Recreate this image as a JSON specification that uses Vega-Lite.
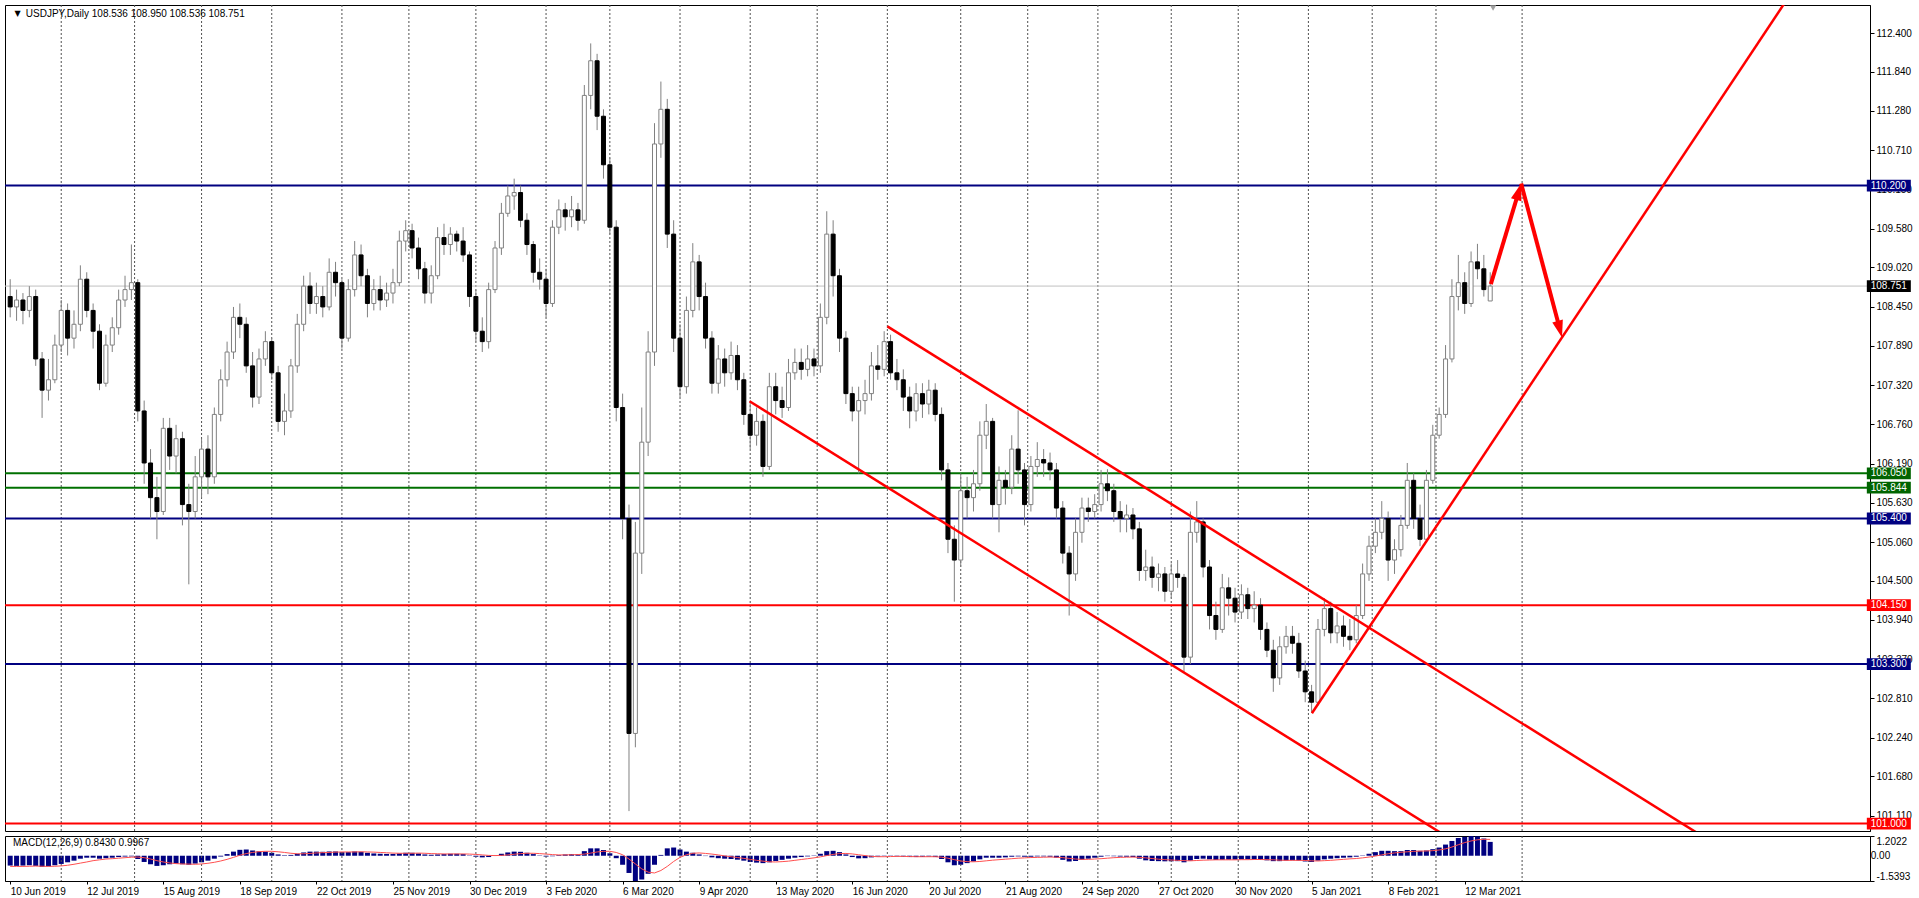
{
"$schema":"https://vega.github.io/schema/vega-lite/v6.json",
"background":"#ffffff",
"padding":{"left":3,"top":4,"right":0,"bottom":0},
"spacing":3,
"config":{
 "view":{"stroke":"#000000","strokeWidth":1},
 "axis":{"labelFont":"Liberation Sans","labelFontSize":10,"labelColor":"#000000","domainColor":"#000000","tickColor":"#000000","grid":false},
 "text":{"font":"Liberation Sans","fontSize":10}
},
"datasets":{
"grid":[{"g":16},{"g":39},{"g":60},{"g":82},{"g":104},{"g":125},{"g":146},{"g":168},{"g":188},{"g":210},{"g":232},{"g":253},{"g":275},{"g":298},{"g":319},{"g":341},{"g":364},{"g":385},{"g":407},{"g":427},{"g":447},{"g":474}],
"levels":[{"p":110.2,"k":"major"},{"p":106.05,"k":"zone"},{"p":105.844,"k":"zone"},{"p":105.4,"k":"major"},{"p":104.15,"k":"key"},{"p":103.3,"k":"major"},{"p":101.0,"k":"key"},{"p":108.751,"k":"last"}],
"trend":[{"t":"upper","i":275,"p":108.17},{"t":"upper","i":560,"p":99.97},{"t":"lower","i":231.8,"p":107.09},{"t":"lower","i":460,"p":100.536},{"t":"rise","i":408.1,"p":102.59},{"t":"rise","i":570,"p":113.78}],
"arrows":[{"a":1,"i":464.2,"p":108.78,"ie":472.56,"pe":110.056,"ti":473.7,"tp":110.23},{"a":2,"i":473.7,"p":110.23,"ie":485.5,"pe":108.19,"ti":486.5,"tp":108.01}],
"bars":[
{"i":0,"o":108.60,"h":108.85,"l":108.30,"c":108.45,"m":-0.60,"s":-0.65},
{"i":2,"o":108.45,"h":108.70,"l":108.25,"c":108.55,"m":-0.62,"s":-0.65},
{"i":4,"o":108.55,"h":108.65,"l":108.20,"c":108.40,"m":-0.60,"s":-0.65},
{"i":6,"o":108.40,"h":108.75,"l":108.30,"c":108.60,"m":-0.58,"s":-0.64},
{"i":8,"o":108.60,"h":108.70,"l":107.60,"c":107.70,"m":-0.62,"s":-0.63},
{"i":10,"o":107.70,"h":107.80,"l":106.85,"c":107.25,"m":-0.68,"s":-0.64},
{"i":12,"o":107.25,"h":107.70,"l":107.10,"c":107.40,"m":-0.65,"s":-0.65},
{"i":14,"o":107.40,"h":108.05,"l":107.35,"c":107.90,"m":-0.58,"s":-0.64},
{"i":16,"o":107.90,"h":108.55,"l":107.80,"c":108.40,"m":-0.50,"s":-0.62},
{"i":18,"o":108.40,"h":108.50,"l":107.75,"c":108.00,"m":-0.40,"s":-0.58},
{"i":20,"o":108.00,"h":108.40,"l":107.85,"c":108.20,"m":-0.30,"s":-0.52},
{"i":22,"o":108.20,"h":109.05,"l":108.10,"c":108.85,"m":-0.18,"s":-0.45},
{"i":24,"o":108.85,"h":108.95,"l":108.30,"c":108.40,"m":-0.12,"s":-0.38},
{"i":26,"o":108.40,"h":108.50,"l":107.85,"c":108.10,"m":-0.12,"s":-0.30},
{"i":28,"o":108.10,"h":108.20,"l":107.25,"c":107.35,"m":-0.18,"s":-0.25},
{"i":30,"o":107.35,"h":108.05,"l":107.30,"c":107.90,"m":-0.15,"s":-0.20},
{"i":32,"o":107.90,"h":108.30,"l":107.80,"c":108.15,"m":-0.12,"s":-0.18},
{"i":34,"o":108.15,"h":108.70,"l":108.05,"c":108.55,"m":-0.08,"s":-0.15},
{"i":36,"o":108.55,"h":108.90,"l":108.45,"c":108.70,"m":-0.05,"s":-0.12},
{"i":38,"o":108.70,"h":109.35,"l":108.55,"c":108.80,"m":-0.04,"s":-0.09},
{"i":40,"o":108.80,"h":108.85,"l":106.80,"c":106.95,"m":-0.20,"s":-0.08},
{"i":42,"o":106.95,"h":107.10,"l":105.90,"c":106.20,"m":-0.38,"s":-0.12},
{"i":44,"o":106.20,"h":106.40,"l":105.40,"c":105.70,"m":-0.52,"s":-0.20},
{"i":46,"o":105.70,"h":106.00,"l":105.10,"c":105.50,"m":-0.62,"s":-0.30},
{"i":48,"o":105.50,"h":106.85,"l":105.45,"c":106.70,"m":-0.58,"s":-0.38},
{"i":50,"o":106.70,"h":106.85,"l":106.10,"c":106.30,"m":-0.52,"s":-0.44},
{"i":52,"o":106.30,"h":106.75,"l":106.05,"c":106.55,"m":-0.48,"s":-0.48},
{"i":54,"o":106.55,"h":106.65,"l":105.30,"c":105.60,"m":-0.52,"s":-0.50},
{"i":56,"o":105.60,"h":105.90,"l":104.45,"c":105.50,"m":-0.55,"s":-0.51},
{"i":58,"o":105.50,"h":106.30,"l":105.40,"c":106.00,"m":-0.48,"s":-0.52},
{"i":60,"o":106.00,"h":106.55,"l":105.70,"c":106.40,"m":-0.40,"s":-0.50},
{"i":62,"o":106.40,"h":106.60,"l":105.75,"c":106.00,"m":-0.30,"s":-0.46},
{"i":64,"o":106.00,"h":107.00,"l":105.90,"c":106.90,"m":-0.18,"s":-0.40},
{"i":66,"o":106.90,"h":107.55,"l":106.80,"c":107.40,"m":-0.05,"s":-0.32},
{"i":68,"o":107.40,"h":107.95,"l":107.30,"c":107.80,"m":0.10,"s":-0.22},
{"i":70,"o":107.80,"h":108.45,"l":107.70,"c":108.30,"m":0.25,"s":-0.10},
{"i":72,"o":108.30,"h":108.50,"l":108.00,"c":108.20,"m":0.36,"s":0.03},
{"i":74,"o":108.20,"h":108.30,"l":107.50,"c":107.60,"m":0.38,"s":0.13},
{"i":76,"o":107.60,"h":107.80,"l":107.00,"c":107.15,"m":0.32,"s":0.20},
{"i":78,"o":107.15,"h":107.85,"l":107.05,"c":107.70,"m":0.28,"s":0.25},
{"i":80,"o":107.70,"h":108.10,"l":107.60,"c":107.95,"m":0.25,"s":0.27},
{"i":82,"o":107.95,"h":108.00,"l":107.40,"c":107.50,"m":0.18,"s":0.27},
{"i":84,"o":107.50,"h":107.60,"l":106.65,"c":106.80,"m":0.08,"s":0.24},
{"i":86,"o":106.80,"h":107.20,"l":106.60,"c":106.95,"m":0.03,"s":0.20},
{"i":88,"o":106.95,"h":107.70,"l":106.85,"c":107.60,"m":0.05,"s":0.15},
{"i":90,"o":107.60,"h":108.35,"l":107.50,"c":108.20,"m":0.12,"s":0.12},
{"i":92,"o":108.20,"h":108.90,"l":108.10,"c":108.75,"m":0.20,"s":0.12},
{"i":94,"o":108.75,"h":108.95,"l":108.35,"c":108.50,"m":0.25,"s":0.14},
{"i":96,"o":108.50,"h":108.80,"l":108.35,"c":108.60,"m":0.25,"s":0.17},
{"i":98,"o":108.60,"h":108.75,"l":108.30,"c":108.45,"m":0.24,"s":0.19},
{"i":100,"o":108.45,"h":109.15,"l":108.40,"c":108.95,"m":0.26,"s":0.20},
{"i":102,"o":108.95,"h":109.10,"l":108.60,"c":108.80,"m":0.26,"s":0.22},
{"i":104,"o":108.80,"h":108.85,"l":107.85,"c":108.00,"m":0.22,"s":0.23},
{"i":106,"o":108.00,"h":108.85,"l":107.95,"c":108.70,"m":0.22,"s":0.23},
{"i":108,"o":108.70,"h":109.40,"l":108.60,"c":109.20,"m":0.26,"s":0.23},
{"i":110,"o":109.20,"h":109.35,"l":108.75,"c":108.90,"m":0.24,"s":0.24},
{"i":112,"o":108.90,"h":109.00,"l":108.30,"c":108.50,"m":0.18,"s":0.23},
{"i":114,"o":108.50,"h":108.85,"l":108.40,"c":108.70,"m":0.14,"s":0.22},
{"i":116,"o":108.70,"h":108.90,"l":108.40,"c":108.55,"m":0.12,"s":0.20},
{"i":118,"o":108.55,"h":108.80,"l":108.45,"c":108.65,"m":0.11,"s":0.18},
{"i":120,"o":108.65,"h":109.00,"l":108.50,"c":108.80,"m":0.11,"s":0.16},
{"i":122,"o":108.80,"h":109.55,"l":108.75,"c":109.40,"m":0.14,"s":0.15},
{"i":124,"o":109.40,"h":109.70,"l":109.25,"c":109.55,"m":0.18,"s":0.15},
{"i":126,"o":109.55,"h":109.65,"l":109.15,"c":109.30,"m":0.18,"s":0.15},
{"i":128,"o":109.30,"h":109.45,"l":108.85,"c":109.00,"m":0.14,"s":0.16},
{"i":130,"o":109.00,"h":109.10,"l":108.50,"c":108.65,"m":0.08,"s":0.15},
{"i":132,"o":108.65,"h":109.05,"l":108.50,"c":108.90,"m":0.06,"s":0.13},
{"i":134,"o":108.90,"h":109.60,"l":108.85,"c":109.45,"m":0.08,"s":0.12},
{"i":136,"o":109.45,"h":109.65,"l":109.20,"c":109.35,"m":0.10,"s":0.11},
{"i":138,"o":109.35,"h":109.60,"l":109.20,"c":109.50,"m":0.12,"s":0.11},
{"i":140,"o":109.50,"h":109.55,"l":109.25,"c":109.40,"m":0.12,"s":0.11},
{"i":142,"o":109.40,"h":109.60,"l":109.10,"c":109.20,"m":0.10,"s":0.11},
{"i":144,"o":109.20,"h":109.25,"l":108.45,"c":108.60,"m":0.02,"s":0.10},
{"i":146,"o":108.60,"h":108.70,"l":107.95,"c":108.10,"m":-0.06,"s":0.08},
{"i":148,"o":108.10,"h":108.30,"l":107.80,"c":107.95,"m":-0.10,"s":0.05},
{"i":150,"o":107.95,"h":108.80,"l":107.85,"c":108.70,"m":-0.08,"s":0.02},
{"i":152,"o":108.70,"h":109.40,"l":108.65,"c":109.30,"m":0.02,"s":0.01},
{"i":154,"o":109.30,"h":109.95,"l":109.20,"c":109.80,"m":0.12,"s":0.02},
{"i":156,"o":109.80,"h":110.20,"l":109.75,"c":110.05,"m":0.20,"s":0.05},
{"i":158,"o":110.05,"h":110.30,"l":109.85,"c":110.10,"m":0.25,"s":0.09},
{"i":160,"o":110.10,"h":110.20,"l":109.60,"c":109.70,"m":0.24,"s":0.13},
{"i":162,"o":109.70,"h":109.80,"l":109.20,"c":109.35,"m":0.18,"s":0.15},
{"i":164,"o":109.35,"h":109.40,"l":108.80,"c":108.95,"m":0.10,"s":0.15},
{"i":166,"o":108.95,"h":109.15,"l":108.70,"c":108.85,"m":0.02,"s":0.13},
{"i":168,"o":108.85,"h":109.00,"l":108.30,"c":108.50,"m":-0.05,"s":0.10},
{"i":170,"o":108.50,"h":109.70,"l":108.45,"c":109.60,"m":-0.03,"s":0.07},
{"i":172,"o":109.60,"h":110.00,"l":109.50,"c":109.85,"m":0.04,"s":0.05},
{"i":174,"o":109.85,"h":109.95,"l":109.55,"c":109.75,"m":0.08,"s":0.05},
{"i":176,"o":109.75,"h":110.05,"l":109.60,"c":109.85,"m":0.10,"s":0.06},
{"i":178,"o":109.85,"h":109.95,"l":109.55,"c":109.70,"m":0.10,"s":0.07},
{"i":180,"o":109.70,"h":111.65,"l":109.65,"c":111.50,"m":0.28,"s":0.10},
{"i":182,"o":111.50,"h":112.25,"l":111.30,"c":112.00,"m":0.45,"s":0.16},
{"i":184,"o":112.00,"h":112.10,"l":111.00,"c":111.20,"m":0.45,"s":0.23},
{"i":186,"o":111.20,"h":111.30,"l":110.30,"c":110.50,"m":0.35,"s":0.27},
{"i":188,"o":110.50,"h":110.60,"l":109.50,"c":109.60,"m":0.15,"s":0.27},
{"i":190,"o":109.60,"h":109.70,"l":106.80,"c":107.00,"m":-0.15,"s":0.20},
{"i":192,"o":107.00,"h":107.20,"l":105.10,"c":105.40,"m":-0.55,"s":0.06},
{"i":194,"o":105.40,"h":105.60,"l":101.18,"c":102.30,"m":-1.05,"s":-0.20},
{"i":196,"o":102.30,"h":105.35,"l":102.10,"c":104.90,"m":-1.54,"s":-0.50},
{"i":198,"o":104.90,"h":107.00,"l":104.60,"c":106.50,"m":-1.45,"s":-0.80},
{"i":200,"o":106.50,"h":108.10,"l":106.30,"c":107.80,"m":-1.10,"s":-1.00},
{"i":202,"o":107.80,"h":111.10,"l":107.60,"c":110.80,"m":-0.55,"s":-1.05},
{"i":204,"o":110.80,"h":111.70,"l":110.60,"c":111.30,"m":0.05,"s":-0.90},
{"i":206,"o":111.30,"h":111.45,"l":109.30,"c":109.50,"m":0.45,"s":-0.65},
{"i":208,"o":109.50,"h":109.70,"l":107.80,"c":108.00,"m":0.50,"s":-0.35},
{"i":210,"o":108.00,"h":108.20,"l":107.15,"c":107.30,"m":0.38,"s":-0.10},
{"i":212,"o":107.30,"h":108.60,"l":107.20,"c":108.40,"m":0.25,"s":0.06},
{"i":214,"o":108.40,"h":109.37,"l":108.30,"c":109.10,"m":0.18,"s":0.15},
{"i":216,"o":109.10,"h":109.20,"l":108.40,"c":108.60,"m":0.08,"s":0.17},
{"i":218,"o":108.60,"h":108.80,"l":107.85,"c":108.00,"m":-0.02,"s":0.14},
{"i":220,"o":108.00,"h":108.10,"l":107.20,"c":107.35,"m":-0.10,"s":0.10},
{"i":222,"o":107.35,"h":107.90,"l":107.20,"c":107.70,"m":-0.15,"s":0.05},
{"i":224,"o":107.70,"h":107.85,"l":107.30,"c":107.50,"m":-0.18,"s":-0.01},
{"i":226,"o":107.50,"h":107.95,"l":107.40,"c":107.75,"m":-0.20,"s":-0.06},
{"i":228,"o":107.75,"h":107.90,"l":107.25,"c":107.40,"m":-0.24,"s":-0.11},
{"i":230,"o":107.40,"h":107.50,"l":106.75,"c":106.90,"m":-0.30,"s":-0.16},
{"i":232,"o":106.90,"h":107.10,"l":106.40,"c":106.60,"m":-0.38,"s":-0.22},
{"i":234,"o":106.60,"h":107.00,"l":106.45,"c":106.80,"m":-0.42,"s":-0.28},
{"i":236,"o":106.80,"h":106.90,"l":106.00,"c":106.15,"m":-0.45,"s":-0.33},
{"i":238,"o":106.15,"h":107.50,"l":106.10,"c":107.30,"m":-0.40,"s":-0.37},
{"i":240,"o":107.30,"h":107.50,"l":106.90,"c":107.10,"m":-0.32,"s":-0.38},
{"i":242,"o":107.10,"h":107.30,"l":106.85,"c":107.00,"m":-0.25,"s":-0.36},
{"i":244,"o":107.00,"h":107.70,"l":106.95,"c":107.50,"m":-0.18,"s":-0.33},
{"i":246,"o":107.50,"h":107.85,"l":107.40,"c":107.65,"m":-0.12,"s":-0.28},
{"i":248,"o":107.65,"h":107.85,"l":107.40,"c":107.55,"m":-0.08,"s":-0.23},
{"i":250,"o":107.55,"h":107.90,"l":107.45,"c":107.70,"m":-0.04,"s":-0.18},
{"i":252,"o":107.70,"h":107.85,"l":107.45,"c":107.60,"m":0.02,"s":-0.13},
{"i":254,"o":107.60,"h":108.50,"l":107.50,"c":108.30,"m":0.12,"s":-0.07},
{"i":256,"o":108.30,"h":109.83,"l":108.20,"c":109.50,"m":0.28,"s":0.01},
{"i":258,"o":109.50,"h":109.70,"l":108.60,"c":108.90,"m":0.30,"s":0.08},
{"i":260,"o":108.90,"h":109.00,"l":107.80,"c":108.00,"m":0.22,"s":0.13},
{"i":262,"o":108.00,"h":108.10,"l":107.05,"c":107.20,"m":0.08,"s":0.14},
{"i":264,"o":107.20,"h":107.30,"l":106.80,"c":106.95,"m":-0.08,"s":0.11},
{"i":266,"o":106.95,"h":107.30,"l":106.05,"c":107.10,"m":-0.16,"s":0.06},
{"i":268,"o":107.10,"h":107.40,"l":106.90,"c":107.20,"m":-0.15,"s":0.01},
{"i":270,"o":107.20,"h":107.80,"l":107.10,"c":107.60,"m":-0.10,"s":-0.04},
{"i":272,"o":107.60,"h":107.90,"l":107.40,"c":107.55,"m":-0.05,"s":-0.06},
{"i":274,"o":107.55,"h":108.10,"l":107.45,"c":107.95,"m":-0.02,"s":-0.06},
{"i":276,"o":107.95,"h":108.05,"l":107.40,"c":107.50,"m":-0.02,"s":-0.05},
{"i":278,"o":107.50,"h":107.70,"l":107.25,"c":107.40,"m":-0.04,"s":-0.04},
{"i":280,"o":107.40,"h":107.55,"l":106.95,"c":107.15,"m":-0.06,"s":-0.04},
{"i":282,"o":107.15,"h":107.30,"l":106.70,"c":106.95,"m":-0.08,"s":-0.05},
{"i":284,"o":106.95,"h":107.35,"l":106.80,"c":107.20,"m":-0.08,"s":-0.06},
{"i":286,"o":107.20,"h":107.35,"l":106.85,"c":107.05,"m":-0.07,"s":-0.06},
{"i":288,"o":107.05,"h":107.40,"l":106.90,"c":107.25,"m":-0.05,"s":-0.06},
{"i":290,"o":107.25,"h":107.35,"l":106.80,"c":106.90,"m":-0.08,"s":-0.06},
{"i":292,"o":106.90,"h":107.00,"l":105.95,"c":106.10,"m":-0.20,"s":-0.09},
{"i":294,"o":106.10,"h":106.20,"l":104.90,"c":105.10,"m":-0.40,"s":-0.15},
{"i":296,"o":105.10,"h":105.30,"l":104.20,"c":104.80,"m":-0.58,"s":-0.24},
{"i":298,"o":104.80,"h":106.05,"l":104.70,"c":105.80,"m":-0.55,"s":-0.32},
{"i":300,"o":105.80,"h":106.00,"l":105.40,"c":105.70,"m":-0.45,"s":-0.36},
{"i":302,"o":105.70,"h":106.10,"l":105.50,"c":105.90,"m":-0.35,"s":-0.37},
{"i":304,"o":105.90,"h":106.80,"l":105.80,"c":106.60,"m":-0.22,"s":-0.35},
{"i":306,"o":106.60,"h":107.05,"l":106.40,"c":106.80,"m":-0.12,"s":-0.31},
{"i":308,"o":106.80,"h":106.85,"l":105.40,"c":105.60,"m":-0.12,"s":-0.27},
{"i":310,"o":105.60,"h":106.15,"l":105.20,"c":105.95,"m":-0.12,"s":-0.24},
{"i":312,"o":105.95,"h":106.10,"l":105.60,"c":105.85,"m":-0.10,"s":-0.21},
{"i":314,"o":105.85,"h":106.60,"l":105.75,"c":106.40,"m":-0.06,"s":-0.18},
{"i":316,"o":106.40,"h":106.96,"l":105.90,"c":106.10,"m":-0.04,"s":-0.15},
{"i":318,"o":106.10,"h":106.20,"l":105.30,"c":105.60,"m":-0.06,"s":-0.13},
{"i":320,"o":105.60,"h":106.30,"l":105.50,"c":106.15,"m":-0.06,"s":-0.11},
{"i":322,"o":106.15,"h":106.50,"l":106.00,"c":106.25,"m":-0.04,"s":-0.10},
{"i":324,"o":106.25,"h":106.40,"l":106.00,"c":106.20,"m":-0.04,"s":-0.09},
{"i":326,"o":106.20,"h":106.35,"l":105.95,"c":106.10,"m":-0.06,"s":-0.08},
{"i":328,"o":106.10,"h":106.20,"l":105.40,"c":105.55,"m":-0.12,"s":-0.09},
{"i":330,"o":105.55,"h":105.65,"l":104.75,"c":104.90,"m":-0.25,"s":-0.12},
{"i":332,"o":104.90,"h":105.00,"l":104.00,"c":104.60,"m":-0.35,"s":-0.16},
{"i":334,"o":104.60,"h":105.40,"l":104.50,"c":105.20,"m":-0.32,"s":-0.20},
{"i":336,"o":105.20,"h":105.70,"l":105.05,"c":105.55,"m":-0.25,"s":-0.22},
{"i":338,"o":105.55,"h":105.70,"l":105.35,"c":105.50,"m":-0.18,"s":-0.22},
{"i":340,"o":105.50,"h":105.75,"l":105.40,"c":105.60,"m":-0.12,"s":-0.20},
{"i":342,"o":105.60,"h":106.10,"l":105.50,"c":105.90,"m":-0.06,"s":-0.18},
{"i":344,"o":105.90,"h":106.11,"l":105.65,"c":105.80,"m":-0.02,"s":-0.15},
{"i":346,"o":105.80,"h":105.90,"l":105.35,"c":105.50,"m":-0.03,"s":-0.12},
{"i":348,"o":105.50,"h":105.65,"l":105.20,"c":105.40,"m":-0.05,"s":-0.10},
{"i":350,"o":105.40,"h":105.60,"l":105.20,"c":105.45,"m":-0.06,"s":-0.09},
{"i":352,"o":105.45,"h":105.55,"l":105.10,"c":105.25,"m":-0.08,"s":-0.08},
{"i":354,"o":105.25,"h":105.35,"l":104.50,"c":104.65,"m":-0.18,"s":-0.10},
{"i":356,"o":104.65,"h":104.95,"l":104.50,"c":104.70,"m":-0.28,"s":-0.13},
{"i":358,"o":104.70,"h":104.85,"l":104.40,"c":104.55,"m":-0.32,"s":-0.17},
{"i":360,"o":104.55,"h":104.75,"l":104.35,"c":104.60,"m":-0.33,"s":-0.21},
{"i":362,"o":104.60,"h":104.70,"l":104.20,"c":104.35,"m":-0.34,"s":-0.24},
{"i":364,"o":104.35,"h":104.75,"l":104.25,"c":104.60,"m":-0.34,"s":-0.26},
{"i":366,"o":104.60,"h":104.80,"l":104.40,"c":104.55,"m":-0.33,"s":-0.28},
{"i":368,"o":104.55,"h":104.60,"l":103.19,"c":103.40,"m":-0.40,"s":-0.30},
{"i":370,"o":103.40,"h":105.50,"l":103.30,"c":105.20,"m":-0.30,"s":-0.31},
{"i":372,"o":105.20,"h":105.65,"l":105.05,"c":105.35,"m":-0.20,"s":-0.29},
{"i":374,"o":105.35,"h":105.40,"l":104.55,"c":104.70,"m":-0.18,"s":-0.27},
{"i":376,"o":104.70,"h":104.80,"l":103.80,"c":104.00,"m":-0.22,"s":-0.26},
{"i":378,"o":104.00,"h":104.20,"l":103.65,"c":103.80,"m":-0.26,"s":-0.25},
{"i":380,"o":103.80,"h":104.60,"l":103.75,"c":104.40,"m":-0.25,"s":-0.25},
{"i":382,"o":104.40,"h":104.55,"l":104.00,"c":104.25,"m":-0.24,"s":-0.25},
{"i":384,"o":104.25,"h":104.40,"l":103.90,"c":104.05,"m":-0.24,"s":-0.25},
{"i":386,"o":104.05,"h":104.45,"l":103.95,"c":104.30,"m":-0.22,"s":-0.24},
{"i":388,"o":104.30,"h":104.40,"l":103.95,"c":104.10,"m":-0.22,"s":-0.24},
{"i":390,"o":104.10,"h":104.35,"l":103.90,"c":104.15,"m":-0.22,"s":-0.23},
{"i":392,"o":104.15,"h":104.25,"l":103.65,"c":103.80,"m":-0.25,"s":-0.23},
{"i":394,"o":103.80,"h":103.90,"l":103.40,"c":103.50,"m":-0.28,"s":-0.24},
{"i":396,"o":103.50,"h":103.65,"l":102.90,"c":103.10,"m":-0.33,"s":-0.25},
{"i":398,"o":103.10,"h":103.70,"l":103.00,"c":103.55,"m":-0.33,"s":-0.27},
{"i":400,"o":103.55,"h":103.85,"l":103.45,"c":103.70,"m":-0.30,"s":-0.28},
{"i":402,"o":103.70,"h":103.85,"l":103.45,"c":103.60,"m":-0.28,"s":-0.28},
{"i":404,"o":103.60,"h":103.75,"l":103.10,"c":103.20,"m":-0.30,"s":-0.28},
{"i":406,"o":103.20,"h":103.35,"l":102.75,"c":102.90,"m":-0.35,"s":-0.29},
{"i":408,"o":102.90,"h":103.00,"l":102.60,"c":102.75,"m":-0.38,"s":-0.31},
{"i":410,"o":102.75,"h":103.95,"l":102.70,"c":103.80,"m":-0.30,"s":-0.32},
{"i":412,"o":103.80,"h":104.25,"l":103.70,"c":104.10,"m":-0.22,"s":-0.30},
{"i":414,"o":104.10,"h":104.20,"l":103.60,"c":103.75,"m":-0.18,"s":-0.28},
{"i":416,"o":103.75,"h":104.05,"l":103.60,"c":103.85,"m":-0.15,"s":-0.25},
{"i":418,"o":103.85,"h":104.00,"l":103.55,"c":103.70,"m":-0.12,"s":-0.22},
{"i":420,"o":103.70,"h":103.95,"l":103.50,"c":103.65,"m":-0.10,"s":-0.19},
{"i":422,"o":103.65,"h":104.15,"l":103.60,"c":104.00,"m":-0.06,"s":-0.17},
{"i":424,"o":104.00,"h":104.75,"l":103.95,"c":104.60,"m":0.02,"s":-0.13},
{"i":426,"o":104.60,"h":105.15,"l":104.50,"c":105.00,"m":0.12,"s":-0.08},
{"i":428,"o":105.00,"h":105.40,"l":104.90,"c":105.20,"m":0.22,"s":-0.02},
{"i":430,"o":105.20,"h":105.65,"l":105.10,"c":105.40,"m":0.30,"s":0.05},
{"i":432,"o":105.40,"h":105.50,"l":104.50,"c":104.80,"m":0.30,"s":0.12},
{"i":434,"o":104.80,"h":105.10,"l":104.60,"c":104.95,"m":0.28,"s":0.17},
{"i":436,"o":104.95,"h":105.45,"l":104.85,"c":105.30,"m":0.28,"s":0.21},
{"i":438,"o":105.30,"h":106.20,"l":105.25,"c":105.95,"m":0.35,"s":0.24},
{"i":440,"o":105.95,"h":106.05,"l":105.25,"c":105.40,"m":0.35,"s":0.27},
{"i":442,"o":105.40,"h":105.60,"l":105.00,"c":105.10,"m":0.30,"s":0.28},
{"i":444,"o":105.10,"h":106.10,"l":105.05,"c":105.95,"m":0.32,"s":0.29},
{"i":446,"o":105.95,"h":106.75,"l":105.90,"c":106.60,"m":0.40,"s":0.31},
{"i":448,"o":106.60,"h":107.00,"l":106.55,"c":106.90,"m":0.50,"s":0.35},
{"i":450,"o":106.90,"h":107.90,"l":106.85,"c":107.70,"m":0.68,"s":0.42},
{"i":452,"o":107.70,"h":108.85,"l":107.65,"c":108.60,"m":0.90,"s":0.53},
{"i":454,"o":108.60,"h":109.20,"l":108.40,"c":108.80,"m":1.08,"s":0.67},
{"i":456,"o":108.80,"h":108.95,"l":108.35,"c":108.50,"m":1.15,"s":0.80},
{"i":458,"o":108.50,"h":109.25,"l":108.45,"c":109.10,"m":1.20,"s":0.90},
{"i":460,"o":109.10,"h":109.36,"l":108.85,"c":109.00,"m":1.18,"s":0.97},
{"i":462,"o":109.00,"h":109.20,"l":108.60,"c":108.70,"m":1.05,"s":1.00},
{"i":464,"o":108.536,"h":108.95,"l":108.536,"c":108.751,"m":0.843,"s":0.997}
]
},
"vconcat":[
{
"width":1865,"height":826,
"layer":[
 {"data":{"name":"grid"},"mark":{"type":"rule","color":"#505050","strokeDash":[2,2],"strokeWidth":1},
  "encoding":{"x":{"field":"g","type":"quantitative","scale":{"domain":[-0.06,581.5],"nice":false,"zero":false},"axis":null}}},
 {"data":{"name":"levels"},"transform":[{"filter":"datum.k != 'last'"}],"mark":{"type":"rule","strokeWidth":2},
  "encoding":{
   "y":{"field":"p","type":"quantitative","scale":{"domain":[100.893,112.804],"nice":false,"zero":false},"title":null,
        "axis":{"orient":"right","values":[101.11,101.68,102.24,102.81,103.37,103.94,104.5,105.06,105.63,106.19,106.76,107.32,107.89,108.45,109.02,109.58,110.15,110.71,111.28,111.84,112.4],"format":".3f","tickSize":4,"labelPadding":2,"labelOverlap":false,"labelFlush":false,"labelBound":false,"domain":true,"title":null}},
   "color":{"field":"k","type":"nominal","scale":{"domain":["major","zone","key"],"range":["#000080","#007000","#ff0000"]},"legend":null}}},
 {"data":{"name":"levels"},"transform":[{"filter":"datum.k == 'last'"}],"mark":{"type":"rule","color":"#c0c0c0","strokeWidth":1},
  "encoding":{"y":{"field":"p","type":"quantitative","scale":{"domain":[100.893,112.804],"nice":false,"zero":false},"title":null}}},
 {"data":{"name":"bars"},"mark":{"type":"rule","color":"#808080","strokeWidth":1},
  "encoding":{"x":{"field":"i","type":"quantitative","scale":{"domain":[-0.06,581.5],"nice":false,"zero":false},"axis":null},
   "y":{"field":"l","type":"quantitative","scale":{"domain":[100.893,112.804],"nice":false,"zero":false},"title":null},
   "y2":{"field":"h"}}},
 {"data":{"name":"bars"},"mark":{"type":"bar","width":4,"strokeWidth":1},
  "encoding":{"x":{"field":"i","type":"quantitative","scale":{"domain":[-0.06,581.5],"nice":false,"zero":false},"axis":null},
   "y":{"field":"o","type":"quantitative","scale":{"domain":[100.893,112.804],"nice":false,"zero":false},"title":null},
   "y2":{"field":"c"},
   "fill":{"condition":{"test":"datum.c >= datum.o","value":"#ffffff"},"value":"#000000"},
   "stroke":{"condition":{"test":"datum.c >= datum.o","value":"#808080"},"value":"#000000"}}},
 {"data":{"name":"trend"},"mark":{"type":"line","color":"#ff0000","strokeWidth":2.5,"clip":true},
  "encoding":{"x":{"field":"i","type":"quantitative","scale":{"domain":[-0.06,581.5],"nice":false,"zero":false},"axis":null},
   "y":{"field":"p","type":"quantitative","scale":{"domain":[100.893,112.804],"nice":false,"zero":false},"title":null},
   "detail":{"field":"t"}}},
 {"data":{"name":"arrows"},"mark":{"type":"rule","color":"#ff0000","strokeWidth":4},
  "encoding":{"x":{"field":"i","type":"quantitative","scale":{"domain":[-0.06,581.5],"nice":false,"zero":false},"axis":null},
   "y":{"field":"p","type":"quantitative","scale":{"domain":[100.893,112.804],"nice":false,"zero":false},"title":null},
   "x2":{"field":"ie"},"y2":{"field":"pe"}}},
 {"data":{"name":"arrows"},"transform":[{"filter":"datum.a == 1"}],"mark":{"type":"point","shape":"M0,0L0.32,1L-0.32,1Z","size":1156,"angle":17,"filled":true,"color":"#ff0000","opacity":1,"strokeWidth":0},
  "encoding":{"x":{"field":"ti","type":"quantitative","scale":{"domain":[-0.06,581.5],"nice":false,"zero":false},"axis":null},
   "y":{"field":"tp","type":"quantitative","scale":{"domain":[100.893,112.804],"nice":false,"zero":false},"title":null}}},
 {"data":{"name":"arrows"},"transform":[{"filter":"datum.a == 2"}],"mark":{"type":"point","shape":"M0,0L0.32,1L-0.32,1Z","size":1156,"angle":165,"filled":true,"color":"#ff0000","opacity":1,"strokeWidth":0},
  "encoding":{"x":{"field":"ti","type":"quantitative","scale":{"domain":[-0.06,581.5],"nice":false,"zero":false},"axis":null},
   "y":{"field":"tp","type":"quantitative","scale":{"domain":[100.893,112.804],"nice":false,"zero":false},"title":null}}},
 {"data":{"name":"levels"},"mark":{"type":"point","shape":"M-1,-0.27H1V0.27H-1Z","size":1936,"filled":true,"opacity":1,"strokeWidth":0},
  "encoding":{"x":{"datum":588.97,"type":"quantitative","scale":{"domain":[-0.06,581.5],"nice":false,"zero":false},"axis":null},
   "y":{"field":"p","type":"quantitative","scale":{"domain":[100.893,112.804],"nice":false,"zero":false},"title":null},
   "fill":{"field":"k","type":"nominal","scale":{"domain":["major","zone","key","last"],"range":["#000080","#006400","#ff0000","#000000"]},"legend":null}}},
 {"data":{"name":"levels"},"mark":{"type":"text","align":"left","baseline":"middle","color":"#ffffff","fontSize":10,"font":"Liberation Sans"},
  "encoding":{"x":{"datum":583.3,"type":"quantitative","scale":{"domain":[-0.06,581.5],"nice":false,"zero":false},"axis":null},
   "y":{"field":"p","type":"quantitative","scale":{"domain":[100.893,112.804],"nice":false,"zero":false},"title":null},
   "text":{"field":"p","type":"quantitative","format":".3f"}}},
 {"data":{"values":[{"t":"USDJPY,Daily  108.536 108.950 108.536 108.751"}]},"mark":{"type":"text","align":"left","baseline":"middle","fontSize":10,"color":"#000000","font":"Liberation Sans"},
  "encoding":{"x":{"datum":4.9,"type":"quantitative","scale":{"domain":[-0.06,581.5],"nice":false,"zero":false},"axis":null},
   "y":{"datum":112.674,"type":"quantitative","scale":{"domain":[100.893,112.804],"nice":false,"zero":false},"title":null},
   "text":{"field":"t"}}},
 {"data":{"values":[{"t":"▼"}]},"mark":{"type":"text","align":"center","baseline":"middle","fontSize":8,"color":"#000000","font":"DejaVu Sans"},
  "encoding":{"x":{"datum":2.3,"type":"quantitative","scale":{"domain":[-0.06,581.5],"nice":false,"zero":false},"axis":null},
   "y":{"datum":112.674,"type":"quantitative","scale":{"domain":[100.893,112.804],"nice":false,"zero":false},"title":null},
   "text":{"field":"t"}}},
 {"data":{"values":[{"i":464.9,"p":112.76}]},"mark":{"type":"point","shape":"triangle-down","size":40,"filled":true,"color":"#a0a0a0","opacity":1},
  "encoding":{"x":{"field":"i","type":"quantitative","scale":{"domain":[-0.06,581.5],"nice":false,"zero":false},"axis":null},
   "y":{"field":"p","type":"quantitative","scale":{"domain":[100.893,112.804],"nice":false,"zero":false},"title":null}}}
]
},
{
"width":1865,"height":45,
"layer":[
 {"data":{"name":"bars"},"mark":{"type":"bar","width":5,"color":"#000080"},
  "encoding":{
   "x":{"field":"i","type":"quantitative","scale":{"domain":[-0.06,581.5],"nice":false,"zero":false},"title":null,
        "axis":{"values":[0,24,48,72,96,120,144,168,192,216,240,264,288,312,336,360,384,408,432,456],
                "labelExpr":"['10 Jun 2019','12 Jul 2019','15 Aug 2019','18 Sep 2019','22 Oct 2019','25 Nov 2019','30 Dec 2019','3 Feb 2020','6 Mar 2020','9 Apr 2020','13 May 2020','16 Jun 2020','20 Jul 2020','21 Aug 2020','24 Sep 2020','27 Oct 2020','30 Nov 2020','5 Jan 2021','8 Feb 2021','12 Mar 2021'][round(datum.value/24)]",
                "labelAlign":"left","labelFlush":false,"labelOverlap":false,"labelBound":false,"tickSize":3,"labelPadding":2,"domain":true,"title":null}},
   "y":{"field":"m","type":"quantitative","scale":{"domain":[-1.5393,1.2022],"nice":false,"zero":false},"title":null,
        "axis":{"orient":"right","values":[-1.5393,0,1.2022],"labelExpr":"datum.value < -1 ? '-1.5393' : (datum.value > 1 ? '1.2022' : '')","labelFlush":true,"tickSize":4,"labelPadding":2,"labelOverlap":false,"labelSeparation":0,"domain":true,"title":null}},
   "y2":{"datum":0}}},
 {"data":{"name":"grid"},"mark":{"type":"rule","color":"#505050","strokeDash":[2,2],"strokeWidth":1},
  "encoding":{"x":{"field":"g","type":"quantitative","scale":{"domain":[-0.06,581.5],"nice":false,"zero":false},"title":null}}},
 {"data":{"name":"bars"},"mark":{"type":"line","color":"#ff5050","strokeWidth":1},
  "encoding":{"x":{"field":"i","type":"quantitative","scale":{"domain":[-0.06,581.5],"nice":false,"zero":false},"title":null},
   "y":{"field":"s","type":"quantitative","scale":{"domain":[-1.5393,1.2022],"nice":false,"zero":false},"title":null}}},
 {"data":{"values":[{"t":"0.00","v":0}]},"mark":{"type":"text","align":"left","baseline":"middle","fontSize":10,"color":"#000000","font":"Liberation Sans"},
  "encoding":{"x":{"datum":583.3,"type":"quantitative","scale":{"domain":[-0.06,581.5],"nice":false,"zero":false},"title":null},
   "y":{"field":"v","type":"quantitative","scale":{"domain":[-1.5393,1.2022],"nice":false,"zero":false},"title":null},
   "text":{"field":"t"}}},
 {"data":{"values":[{"t":"MACD(12,26,9) 0.8430 0.9967"}]},"mark":{"type":"text","align":"left","baseline":"middle","fontSize":10,"color":"#000000","font":"Liberation Sans"},
  "encoding":{"x":{"datum":0.88,"type":"quantitative","scale":{"domain":[-0.06,581.5],"nice":false,"zero":false},"title":null},
   "y":{"datum":0.776,"type":"quantitative","scale":{"domain":[-1.5393,1.2022],"nice":false,"zero":false},"title":null},
   "text":{"field":"t"}}}
]
}
]
}
